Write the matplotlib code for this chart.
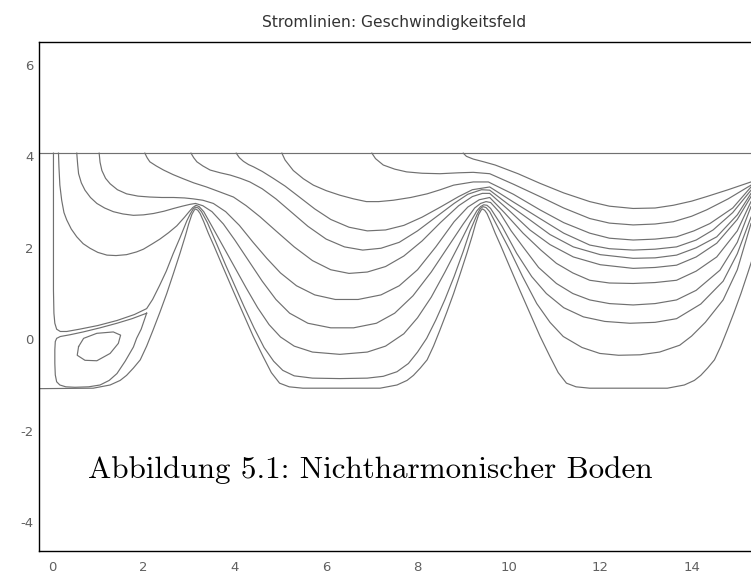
import matplotlib.pyplot as plt
import matplotlib.transforms as mtransforms

plt.rcParams["axes.unicode_minus"] = False

# channel boundaries
top_level = 4.0
bottom_x = [-0.28, 0.90, 1.27, 1.49, 1.63, 1.78, 1.93, 2.07, 2.21, 2.36, 2.51, 2.66, 2.80,
            2.92, 2.99, 3.06, 3.11, 3.14, 3.19, 3.24, 3.32, 3.42, 3.54, 3.74, 3.96, 4.18,
            4.40, 4.62, 4.80, 4.98, 5.19, 5.49,
            7.18, 7.55, 7.77, 7.91, 8.06, 8.21, 8.35, 8.49, 8.64, 8.79, 8.94, 9.08, 9.20,
            9.27, 9.34, 9.39, 9.42, 9.47, 9.52, 9.60, 9.70, 9.82, 10.02, 10.24, 10.46,
            10.68, 10.90, 11.08, 11.26, 11.47, 11.77,
            13.47, 13.84, 14.06, 14.20, 14.35, 14.50, 14.64, 14.78, 14.93, 15.08, 15.23,
            15.37]
bottom_y = [-1.15, -1.14, -1.07, -0.97, -0.86, -0.70, -0.52, -0.22, 0.13, 0.52, 0.93, 1.38,
            1.81, 2.20, 2.45, 2.66, 2.75, 2.78, 2.75, 2.68, 2.50, 2.25, 1.98, 1.51, 1.00,
            0.50, 0.00, -0.45, -0.80, -1.03, -1.11, -1.14,
            -1.14, -1.07, -0.97, -0.86, -0.70, -0.52, -0.22, 0.13, 0.52, 0.93, 1.38, 1.81,
            2.20, 2.45, 2.66, 2.75, 2.78, 2.75, 2.68, 2.50, 2.25, 1.98, 1.51, 1.00, 0.50,
            0.00, -0.45, -0.80, -1.03, -1.11, -1.14,
            -1.14, -1.07, -0.97, -0.86, -0.70, -0.52, -0.22, 0.13, 0.52, 0.93, 1.38, 1.81]

# streamlines, ordered from the wall outwards
line_b = [(0.03, 4.0), (0.03, 3.0), (0.03, 2.0), (0.03, 1.0), (0.04, 0.5), (0.06, 0.28),
          (0.1, 0.15), (0.18, 0.1), (0.32, 0.1), (0.6, 0.15), (1.0, 0.23), (1.42, 0.34),
          (1.8, 0.47), (2.07, 0.6), (2.2, 0.8), (2.35, 1.1), (2.5, 1.42), (2.65, 1.8),
          (2.8, 2.15), (2.95, 2.52), (3.03, 2.68), (3.09, 2.78), (3.14, 2.82), (3.2, 2.8),
          (3.27, 2.72), (3.4, 2.48), (3.6, 2.02), (3.8, 1.55), (4.0, 1.1), (4.2, 0.65),
          (4.42, 0.18), (4.64, -0.25), (4.85, -0.55), (5.05, -0.75), (5.3, -0.87),
          (5.7, -0.92), (6.3, -0.93), (6.9, -0.92), (7.25, -0.88), (7.55, -0.78),
          (7.8, -0.6), (8.0, -0.35), (8.2, -0.05), (8.4, 0.35), (8.6, 0.8), (8.8, 1.3),
          (9.0, 1.85), (9.15, 2.3), (9.3, 2.65), (9.37, 2.78), (9.43, 2.83), (9.5, 2.81),
          (9.58, 2.72), (9.8, 2.3), (10.02, 1.88), (10.3, 1.3), (10.61, 0.71), (10.9, 0.3),
          (11.19, -0.01), (11.6, -0.25), (11.99, -0.38), (12.4, -0.42), (12.87, -0.41),
          (13.3, -0.35), (13.74, -0.2), (14.0, 0.0), (14.3, 0.3), (14.69, 0.79),
          (15.0, 1.45), (15.3, 2.46)]
line_c = [(0.14, 4.0), (0.15, 3.7), (0.17, 3.3), (0.21, 2.97), (0.26, 2.7), (0.32, 2.54),
          (0.42, 2.34), (0.54, 2.17), (0.68, 2.02), (0.83, 1.92), (1.0, 1.83), (1.2, 1.77),
          (1.4, 1.76), (1.63, 1.78), (1.85, 1.84), (2.0, 1.9), (2.2, 2.02), (2.36, 2.12),
          (2.55, 2.26), (2.73, 2.41), (2.9, 2.6), (3.0, 2.72), (3.08, 2.81), (3.15, 2.86),
          (3.22, 2.83), (3.32, 2.72), (3.5, 2.4), (3.75, 1.95), (4.0, 1.5), (4.25, 1.05),
          (4.5, 0.62), (4.75, 0.25), (5.0, -0.02), (5.3, -0.22), (5.7, -0.35), (6.3, -0.4),
          (6.9, -0.35), (7.3, -0.22), (7.7, 0.05), (8.0, 0.4), (8.3, 0.85), (8.6, 1.4),
          (8.9, 1.98), (9.15, 2.48), (9.3, 2.74), (9.38, 2.83), (9.45, 2.87), (9.52, 2.86),
          (9.6, 2.79), (9.85, 2.4), (10.17, 1.81), (10.5, 1.3), (10.82, 0.93), (11.2, 0.62),
          (11.63, 0.42), (12.1, 0.32), (12.65, 0.28), (13.2, 0.3), (13.67, 0.38),
          (14.2, 0.7), (14.69, 1.2), (15.0, 1.8), (15.3, 2.6)]
line_d = [(0.54, 4.0), (0.56, 3.75), (0.58, 3.55), (0.64, 3.35), (0.72, 3.19), (0.84, 3.03),
          (0.98, 2.9), (1.15, 2.8), (1.34, 2.72), (1.55, 2.67), (1.78, 2.64), (2.0, 2.65),
          (2.22, 2.68), (2.45, 2.73), (2.66, 2.79), (2.85, 2.84), (3.02, 2.88), (3.14, 2.9),
          (3.3, 2.85), (3.5, 2.72), (3.75, 2.45), (4.0, 2.1), (4.3, 1.65), (4.6, 1.2),
          (4.9, 0.8), (5.2, 0.5), (5.6, 0.28), (6.1, 0.18), (6.6, 0.18), (7.1, 0.28),
          (7.5, 0.5), (7.9, 0.88), (8.3, 1.4), (8.7, 2.0), (9.0, 2.45), (9.25, 2.8),
          (9.38, 2.9), (9.5, 2.94), (9.6, 2.92), (9.8, 2.7), (10.05, 2.3), (10.31, 1.95),
          (10.65, 1.5), (11.04, 1.15), (11.4, 0.93), (11.77, 0.79), (12.2, 0.71),
          (12.72, 0.68), (13.2, 0.71), (13.67, 0.79), (14.1, 1.0), (14.62, 1.44),
          (15.0, 2.05), (15.3, 2.83)]
line_e = [(1.03, 4.0), (1.05, 3.8), (1.09, 3.62), (1.17, 3.45), (1.27, 3.33), (1.43, 3.2),
          (1.63, 3.11), (1.88, 3.06), (2.14, 3.04), (2.4, 3.03), (2.66, 3.03), (2.9, 3.02),
          (3.09, 3.0), (3.3, 2.97), (3.53, 2.9), (3.8, 2.72), (4.1, 2.42), (4.4, 2.05),
          (4.7, 1.7), (5.0, 1.38), (5.35, 1.1), (5.75, 0.9), (6.2, 0.8), (6.7, 0.8),
          (7.2, 0.9), (7.6, 1.1), (8.0, 1.45), (8.4, 1.95), (8.8, 2.5), (9.1, 2.82),
          (9.35, 2.98), (9.58, 3.03), (9.9, 2.7), (10.31, 2.25), (10.7, 1.88), (11.04, 1.59),
          (11.4, 1.38), (11.77, 1.22), (12.2, 1.16), (12.72, 1.15), (13.2, 1.17),
          (13.67, 1.22), (14.1, 1.42), (14.55, 1.73), (15.0, 2.3), (15.3, 2.94)]
line_f = [(2.03, 4.0), (2.08, 3.9), (2.14, 3.81), (2.28, 3.72), (2.44, 3.63), (2.65, 3.53),
          (2.87, 3.44), (3.1, 3.35), (3.38, 3.26), (3.65, 3.16), (3.97, 3.04), (4.25, 2.85),
          (4.55, 2.61), (4.9, 2.3), (5.3, 1.95), (5.7, 1.65), (6.1, 1.45), (6.5, 1.37),
          (6.9, 1.4), (7.3, 1.52), (7.7, 1.75), (8.1, 2.08), (8.5, 2.48), (8.9, 2.85),
          (9.2, 3.05), (9.42, 3.12), (9.58, 3.12), (10.0, 2.75), (10.46, 2.32), (10.9, 2.0),
          (11.41, 1.73), (12.0, 1.56), (12.72, 1.48), (13.2, 1.5), (13.67, 1.55),
          (14.1, 1.73), (14.55, 2.03), (15.0, 2.55), (15.3, 3.05)]
line_g = [(3.04, 4.0), (3.1, 3.9), (3.17, 3.81), (3.3, 3.72), (3.46, 3.63), (3.68, 3.57),
          (3.9, 3.52), (4.12, 3.45), (4.33, 3.37), (4.6, 3.22), (4.9, 3.0), (5.25, 2.7),
          (5.6, 2.4), (6.0, 2.12), (6.4, 1.95), (6.8, 1.88), (7.2, 1.92), (7.6, 2.05),
          (8.0, 2.3), (8.4, 2.6), (8.8, 2.9), (9.1, 3.1), (9.4, 3.2), (9.58, 3.19),
          (10.0, 2.87), (10.46, 2.54), (10.9, 2.22), (11.41, 1.95), (12.0, 1.78),
          (12.72, 1.70), (13.2, 1.71), (13.67, 1.77), (14.1, 1.93), (14.55, 2.17),
          (15.0, 2.65), (15.3, 3.12)]
line_h = [(4.03, 4.0), (4.1, 3.9), (4.19, 3.82), (4.3, 3.75), (4.41, 3.7), (4.6, 3.6),
          (4.84, 3.45), (5.1, 3.28), (5.4, 3.05), (5.75, 2.78), (6.1, 2.55), (6.5, 2.38),
          (6.9, 2.3), (7.3, 2.32), (7.7, 2.42), (8.1, 2.6), (8.5, 2.82), (8.9, 3.05),
          (9.2, 3.2), (9.58, 3.26), (10.1, 2.93), (10.68, 2.57), (11.2, 2.25), (11.77, 1.99),
          (12.2, 1.91), (12.72, 1.88), (13.2, 1.9), (13.67, 1.95), (14.1, 2.1),
          (14.47, 2.32), (14.9, 2.7), (15.3, 3.19)]
line_i = [(5.03, 4.0), (5.1, 3.85), (5.28, 3.62), (5.5, 3.44), (5.72, 3.30), (6.0, 3.18),
          (6.3, 3.08), (6.6, 3.0), (6.88, 2.94), (7.15, 2.94), (7.47, 2.97), (7.85, 3.03),
          (8.21, 3.11), (8.5, 3.2), (8.79, 3.3), (9.22, 3.37), (9.55, 3.37), (10.1, 3.1),
          (10.68, 2.76), (11.2, 2.48), (11.77, 2.25), (12.2, 2.14), (12.72, 2.10),
          (13.2, 2.12), (13.67, 2.17), (14.05, 2.3), (14.4, 2.46), (14.9, 2.8), (15.3, 3.26)]
line_j = [(7.0, 4.0), (7.08, 3.88), (7.25, 3.74), (7.5, 3.65), (7.76, 3.59), (8.1, 3.56),
          (8.49, 3.55), (8.9, 3.57), (9.22, 3.58), (9.58, 3.55), (10.1, 3.32), (10.68, 3.05),
          (11.2, 2.8), (11.77, 2.57), (12.2, 2.47), (12.72, 2.43), (13.2, 2.45), (13.6, 2.5),
          (14.0, 2.62), (14.33, 2.76), (14.8, 3.0), (15.3, 3.30)]
line_k = [(9.0, 4.0), (9.07, 3.93), (9.22, 3.87), (9.45, 3.81), (9.7, 3.74), (10.2, 3.55),
          (10.68, 3.34), (11.2, 3.13), (11.77, 2.94), (12.2, 2.84), (12.72, 2.79),
          (13.2, 2.8), (13.6, 2.86), (14.0, 2.95), (14.33, 3.05), (14.8, 3.2), (15.3, 3.37)]

# recirculation cell in the corner
cell_outer = [(2.07, 0.5), (1.75, 0.38), (1.42, 0.28), (1.05, 0.18), (0.68, 0.09),
              (0.4, 0.03), (0.18, -0.01), (0.1, -0.05), (0.07, -0.12), (0.06, -0.3),
              (0.06, -0.6), (0.07, -0.85), (0.1, -1.0), (0.17, -1.07), (0.3, -1.11),
              (0.5, -1.12), (0.8, -1.11), (1.05, -1.07), (1.25, -0.97), (1.42, -0.82),
              (1.6, -0.55), (1.78, -0.24), (1.85, -0.05), (1.95, 0.15), (2.07, 0.5)]
cell_inner = [(0.58, -0.23), (0.69, -0.05), (0.98, 0.06), (1.34, 0.09), (1.5, 0.02),
              (1.45, -0.16), (1.27, -0.38), (0.98, -0.54), (0.72, -0.53), (0.55, -0.42),
              (0.58, -0.23)]

streamlines = [line_b, line_c, line_d, line_e, line_f, line_g, line_h, line_i, line_j,
               line_k, cell_outer, cell_inner]

x_ticks = [0, 2, 4, 6, 8, 10, 12, 14]
y_ticks = [-4, -2, 0, 2, 4, 6]

title = "Stromlinien: Geschwindigkeitsfeld"
caption = "Abbildung 5.1: Nichtharmonischer Boden"

fig = plt.figure(figsize=(7.51, 5.77), dpi=100)
ax = fig.add_axes([39.3 / 751, 1 - 551 / 577, 1 - 39.3 / 751, (551 - 42) / 577])
ax.set_xlim(-0.28, 15.30)
ax.set_ylim(-4.70, 6.43)

line_col = "#707070"
ax.plot(bottom_x, bottom_y, color=line_col, lw=0.85)
ax.axhline(top_level, color=line_col, lw=0.85)
for sl in streamlines:
    xs = [p[0] for p in sl]
    ys = [p[1] for p in sl]
    ax.plot(xs, ys, color=line_col, lw=0.85)

ax.set_xticks(x_ticks)
ax.set_yticks(y_ticks)
ax.tick_params(length=0, labelsize=9.5, labelcolor="#606060")
ax.tick_params(axis="x", pad=7)
ax.tick_params(axis="y", pad=4)
# y labels sit a little below their tick positions
for lab in ax.get_yticklabels():
    lab.set_transform(lab.get_transform()
                      + mtransforms.ScaledTranslation(0, -3 / 100, fig.dpi_scale_trans))

ax.spines["right"].set_visible(False)
for s in ["left", "bottom", "top"]:
    ax.spines[s].set_linewidth(1.0)
    ax.spines[s].set_color("black")

fig.text(394 / 751, 1 - 23 / 577, title, ha="center", va="center", fontsize=11.2,
         color="#333333")
fig.text(88 / 751, 1 - 470 / 577, caption, ha="left", va="center", fontsize=22.4,
         family="cmr10", color="black")

fig.savefig("out.png", dpi=100)
